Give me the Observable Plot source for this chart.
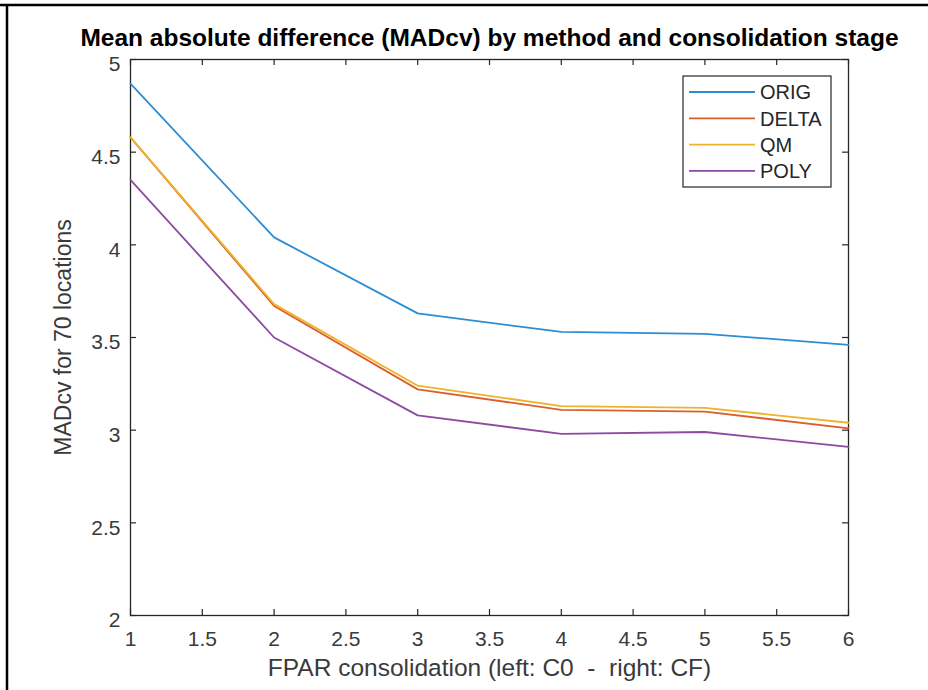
<!DOCTYPE html>
<html>
<head>
<meta charset="utf-8">
<script src="https://cdn.jsdelivr.net/npm/d3@7"></script>
<script src="https://cdn.jsdelivr.net/npm/@observablehq/plot@0.6"></script>
<style>
  html, body { margin: 0; padding: 0; background: #fff; }
  #chart { position: relative; width: 928px; height: 690px; }
</style>
</head>
<body>
<div id="chart"></div>
<script>
const stages = [1, 2, 3, 4, 5, 6];
const orig  = [4.87, 4.04, 3.63, 3.53, 3.52, 3.46];
const delta = [4.58, 3.67, 3.22, 3.11, 3.10, 3.01];
const qm    = [4.58, 3.68, 3.24, 3.13, 3.12, 3.04];
const poly  = [4.35, 3.50, 3.08, 2.98, 2.99, 2.91];
const seriesNames = ["ORIG", "DELTA", "QM", "POLY"];
const seriesColors = ["#2d8dd2", "#dc5e2a", "#edb32a", "#8e4aa2"];
const xTicks = [1, 1.5, 2, 2.5, 3, 3.5, 4, 4.5, 5, 5.5, 6];
const yTicks = [2, 2.5, 3, 3.5, 4, 4.5, 5];
const title = "Mean absolute difference (MADcv) by method and consolidation stage";
const xLabel = "FPAR consolidation (left: C0  -  right: CF)";
const yLabel = "MADcv for 70 locations";

const valuesBySeries = [orig, delta, qm, poly];
const rows = [];
seriesNames.forEach((name, s) => {
  stages.forEach((x, i) => rows.push({series: name, x, y: valuesBySeries[s][i]}));
});

const W = 928, H = 690;
const mL = 130, mR = 80, mT = 59, mB = 75;
const frameW = W - mL - mR, frameH = H - mT - mB;
const tick = 6;
const axisColor = "#262626";
const labelColor = "#3a3a3a";
const font = "Liberation Sans, Arial, Helvetica, sans-serif";

const plot = Plot.plot({
  width: W, height: H,
  marginLeft: mL, marginRight: mR, marginTop: mT, marginBottom: mB,
  style: {fontFamily: font, background: "#fff", overflow: "visible"},
  x: {domain: [1, 6]},
  y: {domain: [2, 5]},
  color: {domain: seriesNames, range: seriesColors},
  marks: [
    Plot.frame({stroke: axisColor, strokeWidth: 1.3}),
    Plot.ruleX(xTicks, {x: d => d, insetTop: frameH - tick, stroke: axisColor, strokeWidth: 1.2}),
    Plot.ruleX(xTicks, {x: d => d, insetBottom: frameH - tick, stroke: axisColor, strokeWidth: 1.2}),
    Plot.ruleY(yTicks, {y: d => d, insetRight: frameW - tick, stroke: axisColor, strokeWidth: 1.2}),
    Plot.ruleY(yTicks, {y: d => d, insetLeft: frameW - tick, stroke: axisColor, strokeWidth: 1.2}),
    Plot.axisX({ticks: xTicks, tickSize: 0, tickPadding: 16, label: null, fontSize: 21, color: labelColor, tickFormat: d => String(d)}),
    Plot.axisY({ticks: yTicks, tickSize: 0, tickPadding: 10, label: null, fontSize: 21, color: labelColor, dy: 5, tickFormat: d => String(d)}),
    Plot.lineY(rows, {x: "x", y: "y", z: "series", stroke: "series", strokeWidth: 1.8}),
    Plot.text([title], {frameAnchor: "top", lineAnchor: "middle", textAnchor: "middle", dy: -21, fontSize: 24.5, fontWeight: "bold", fill: "#000", text: d => d}),
    Plot.text([xLabel], {frameAnchor: "bottom", lineAnchor: "middle", textAnchor: "middle", dy: 53, fontSize: 24.5, fill: labelColor, text: d => d}),
    Plot.text([yLabel], {frameAnchor: "left", lineAnchor: "middle", textAnchor: "middle", dx: -67, rotate: -90, fontSize: 23, fill: labelColor, text: d => d})
  ]
});

document.getElementById("chart").appendChild(plot);

const svg = d3.select(plot);
const lg = svg.append("g").attr("font-family", font).attr("font-size", 20).attr("fill", "#262626").attr("text-anchor", "start");
const lx = 683, ly = 76, lw = 148, lh = 111;
lg.append("rect").attr("x", lx).attr("y", ly).attr("width", lw).attr("height", lh)
  .attr("fill", "#fff").attr("stroke", axisColor).attr("stroke-width", 1.2);
seriesNames.forEach((name, i) => {
  const yy = ly + 16 + i * 26.3;
  lg.append("line").attr("x1", lx + 6).attr("x2", lx + 72).attr("y1", yy).attr("y2", yy)
    .attr("stroke", seriesColors[i]).attr("stroke-width", 1.8);
  lg.append("text").attr("x", lx + 77).attr("y", yy).attr("dy", "0.36em").text(name);
});
svg.append("line").attr("x1", 0).attr("x2", W).attr("y1", 5).attr("y2", 5).attr("stroke", "#000").attr("stroke-width", 2.5);
svg.append("line").attr("x1", 7).attr("x2", 7).attr("y1", 4).attr("y2", H).attr("stroke", "#000").attr("stroke-width", 2.5);
</script>
</body>
</html>
